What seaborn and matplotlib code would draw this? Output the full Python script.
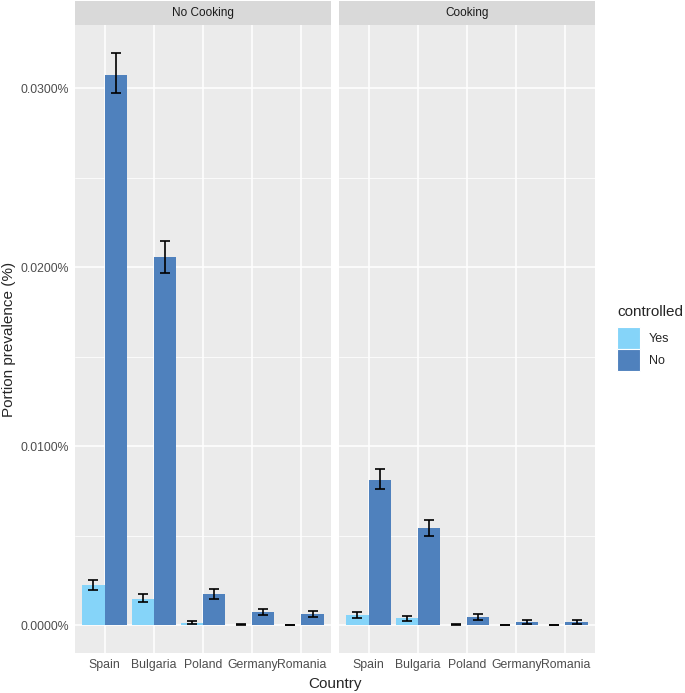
import pandas as pd
import seaborn as sns
import matplotlib.pyplot as plt
from matplotlib.patches import Patch

# --- Data (prevalence in %) ---
countries = ["Spain", "Bulgaria", "Poland", "Germany", "Romania"]
panels = ["No Cooking", "Cooking"]
controlled_levels = ["Yes", "No"]

nocook_yes = [0.00223, 0.00145, 0.00010, 0.00003, 0.00001]
nocook_yes_lo = [0.00196, 0.00127, 0.00005, 0.00001, 0.00000]
nocook_yes_hi = [0.00251, 0.00173, 0.00020, 0.00006, 0.00002]
nocook_no = [0.03073, 0.02056, 0.00171, 0.00073, 0.00060]
nocook_no_lo = [0.02970, 0.01968, 0.00145, 0.00054, 0.00045]
nocook_no_hi = [0.03194, 0.02147, 0.00199, 0.00089, 0.00077]

cook_yes = [0.00056, 0.00037, 0.00003, 0.00001, 0.00001]
cook_yes_lo = [0.00041, 0.00024, 0.00001, 0.00000, 0.00000]
cook_yes_hi = [0.00073, 0.00052, 0.00005, 0.00002, 0.00002]
cook_no = [0.00810, 0.00542, 0.00043, 0.00017, 0.00015]
cook_no_lo = [0.00758, 0.00497, 0.00030, 0.00006, 0.00004]
cook_no_hi = [0.00872, 0.00587, 0.00060, 0.00028, 0.00030]

palette = {"Yes": "#85D4F9", "No": "#4F81BD"}

rows = []
series = [
    ("No Cooking", "Yes", nocook_yes, nocook_yes_lo, nocook_yes_hi),
    ("No Cooking", "No", nocook_no, nocook_no_lo, nocook_no_hi),
    ("Cooking", "Yes", cook_yes, cook_yes_lo, cook_yes_hi),
    ("Cooking", "No", cook_no, cook_no_lo, cook_no_hi),
]
for panel, ctrl, vals, los, his in series:
    for c, v, lo, hi in zip(countries, vals, los, his):
        rows.append({"panel": panel, "country": c, "controlled": ctrl,
                     "value": v, "lo": lo, "hi": hi})
df = pd.DataFrame(rows)

# --- Style ---
sns.set_theme(style="darkgrid")
plt.rcParams['font.family'] = ['Liberation Sans', 'DejaVu Sans']

W, H = 685, 693
fig = plt.figure(figsize=(W / 100, H / 100), dpi=100)

panel_left = [75, 339]
panel_w = 256
top_px, bottom_px = 25, 653
ymin, ymax = -0.00156, 0.03352

axes = []
for i, panel in enumerate(panels):
    ax = fig.add_axes([panel_left[i] / W, (H - bottom_px) / H,
                       panel_w / W, (bottom_px - top_px) / H])
    sub = df[df["panel"] == panel]
    sns.barplot(data=sub, x="country", y="value", hue="controlled",
                order=countries, hue_order=controlled_levels, palette=palette,
                width=0.9, errorbar=None, saturation=1, linewidth=0,
                legend=False, ax=ax, zorder=2)
    # error bars from the bar positions seaborn chose
    for level, container in zip(controlled_levels, ax.containers):
        part = sub[sub["controlled"] == level].set_index("country").loc[countries]
        for bar, (_, r) in zip(container, part.iterrows()):
            xc = bar.get_x() + bar.get_width() / 2
            ax.errorbar(xc, r["value"],
                        yerr=[[r["value"] - r["lo"]], [r["hi"] - r["value"]]],
                        fmt="none", ecolor="black", elinewidth=1.2,
                        capsize=3.8, capthick=1.2, zorder=3)

    ax.set_facecolor("#EBEBEB")
    for s in ax.spines.values():
        s.set_visible(False)
    ax.set_xlim(-0.6, 4.6)
    ax.set_ylim(ymin, ymax)
    ax.set_yticks([0, 0.01, 0.02, 0.03])
    ax.set_yticks([0.005, 0.015, 0.025], minor=True)
    ax.grid(which="major", color="white", linewidth=1.1)
    ax.grid(which="minor", axis="y", color="white", linewidth=0.55)
    ax.set_axisbelow(True)
    ax.tick_params(axis="both", which="major", length=2.5, width=0.8,
                   color="#333333", labelcolor="#4D4D4D", labelsize=8.8, pad=2)
    ax.tick_params(axis="y", which="minor", length=0)
    ax.set_xlabel("")
    ax.set_ylabel("")
    if i == 0:
        ax.yaxis.set_major_formatter(plt.FuncFormatter(lambda v, p: f"{v:.4f}%"))
    else:
        ax.tick_params(axis="y", which="major", length=0, labelleft=False)

    # facet strip
    sax = fig.add_axes([panel_left[i] / W, (H - top_px) / H,
                        panel_w / W, 24 / H])
    sax.set_facecolor("#D9D9D9")
    sax.grid(False)
    sax.set_xticks([])
    sax.set_yticks([])
    for s in sax.spines.values():
        s.set_visible(False)
    sax.text(0.5, 0.5, panel, ha="center", va="center", fontsize=8.5,
             color="#1A1A1A", transform=sax.transAxes)
    axes.append(ax)

fig.text(335 / W, 1 - 684 / H, "Country", ha="center", va="center", fontsize=11)
fig.text(9 / W, 1 - 339 / H, "Portion prevalence (%)", ha="center",
         va="center", rotation=90, fontsize=11)

handles = [Patch(facecolor=palette[k], edgecolor="white", linewidth=0.8)
           for k in controlled_levels]
leg = fig.legend(handles, controlled_levels, title="controlled",
                 loc="upper left", bbox_to_anchor=(612 / W, 1 - 300 / H),
                 frameon=False, fontsize=9, title_fontsize=11,
                 handlelength=1.85, handleheight=2.3, labelspacing=0.0,
                 handletextpad=0.7, borderaxespad=0)
leg._legend_box.align = "left"
leg._legend_box.sep = 6

fig.savefig("out.png", dpi=100)
